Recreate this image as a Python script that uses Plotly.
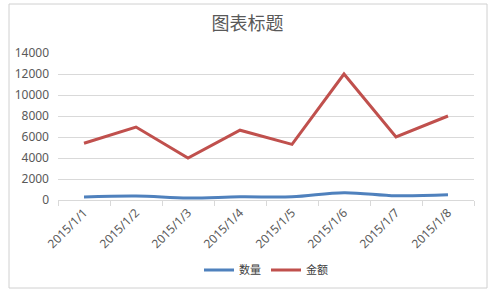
import plotly.graph_objects as go

categories = ["2015/1/1", "2015/1/2", "2015/1/3", "2015/1/4",
              "2015/1/5", "2015/1/6", "2015/1/7", "2015/1/8"]
quantity = [280, 380, 180, 300, 300, 700, 400, 500]
amount = [5400, 6950, 4000, 6650, 5300, 12000, 6000, 8000]
y_ticks = [0, 2000, 4000, 6000, 8000, 10000, 12000, 14000]

W, H = 495, 297
L, R, T, B = 58, 21, 53, 97
pw, ph = W - L - R, H - T - B

def px(x):
    return (x - L) / pw

def py(y):
    return (H - B - y) / ph

fig = go.Figure()
fig.add_trace(go.Scatter(x=categories, y=quantity, name="数量", mode="lines",
                         line=dict(color="#4f81bd", width=3, shape="spline")))
fig.add_trace(go.Scatter(x=categories, y=amount, name="金额", mode="lines",
                         line=dict(color="#c0504d", width=3)))

fig.update_layout(
    width=W, height=H,
    margin=dict(l=L, r=R, t=T, b=B),
    paper_bgcolor="white", plot_bgcolor="white",
    font=dict(family="Noto Sans, Noto Sans CJK SC", color="#595959", size=11),
    title=dict(text="图表标题", x=0.5, xanchor="center", y=1 - 24 / H, yanchor="middle",
               font=dict(family="Noto Sans CJK SC", size=18, color="#595959")),
    showlegend=True,
    legend=dict(orientation="h", x=0.5, xanchor="center", y=py(270), yanchor="middle",
                font=dict(family="Noto Sans CJK SC", size=11, color="#404040"),
                itemwidth=30, bgcolor="rgba(0,0,0,0)"),
    xaxis=dict(type="category", tickangle=-45, showgrid=False,
               showline=True, linecolor="#d9d9d9", linewidth=1,
               ticks="outside", tickson="boundaries", ticklen=5, tickcolor="#d9d9d9",
               tickfont=dict(size=12, color="#595959"), range=[-0.5, 7.5]),
    yaxis=dict(range=[0, 14000], tickvals=y_ticks, ticktext=[str(v) for v in y_ticks],
               showgrid=True, gridcolor="#d9d9d9",
               gridwidth=1, zeroline=False, showline=False, ticks="",
               ticklabelstandoff=8,
               tickfont=dict(size=12, color="#595959")),
)

fig.add_shape(type="rect", xref="paper", yref="paper",
              x0=px(9), x1=px(487), y0=py(288), y1=py(4),
              line=dict(color="#d0d0d0", width=1), layer="below")

fig.write_html("out.html")
